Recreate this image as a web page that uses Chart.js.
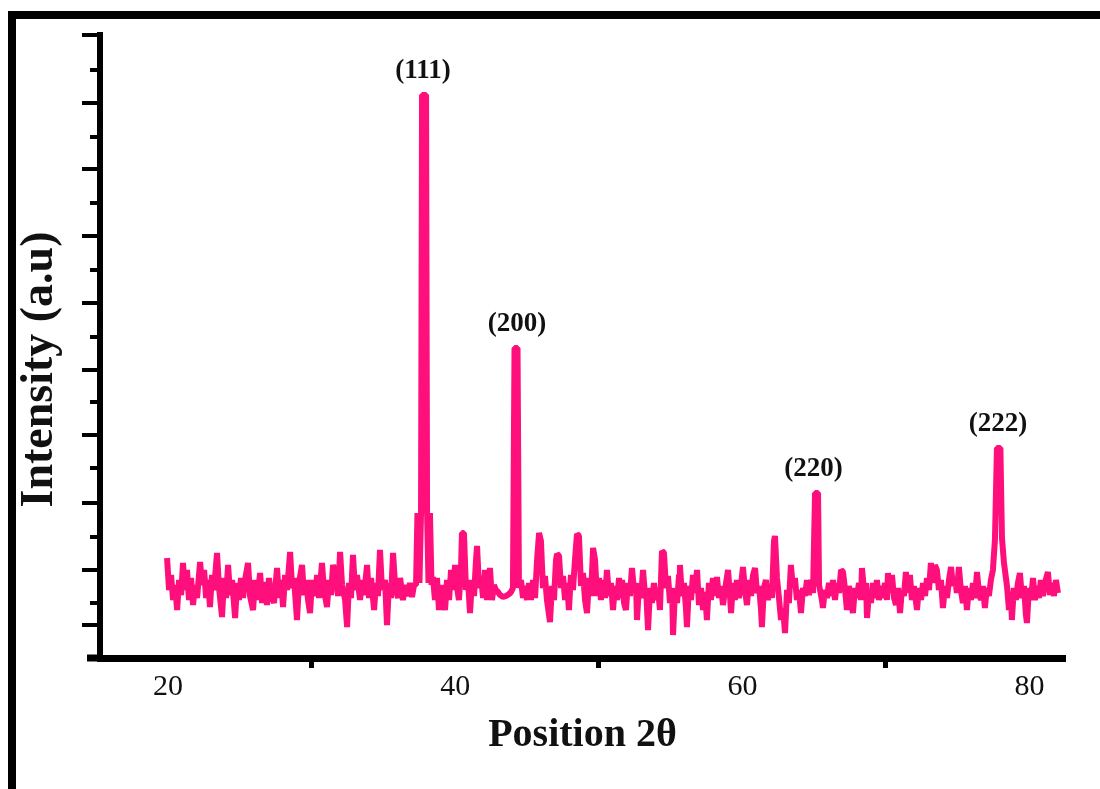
<!DOCTYPE html>
<html><head><meta charset="utf-8">
<script src="https://cdn.jsdelivr.net/npm/chart.js@4.4.1/dist/chart.umd.min.js"></script>
<style>
html,body{margin:0;padding:0;background:#fff;}
#wrap{position:relative;width:1100px;height:789px;overflow:hidden;background:#fff;}
#frame{position:absolute;left:8px;top:11px;width:1200px;height:900px;border-left:8px solid #000;border-top:8px solid #000;}
canvas{position:absolute;left:0;top:0;}
</style></head><body>
<div id="wrap"><div id="frame"></div><canvas id="c" width="1100" height="789"></canvas></div>
<script>
// 2θ positions (degrees)
const twoTheta = [
19.93,20.07,20.21,20.35,20.49,20.63,20.77,20.91,21.04,21.18,21.32,21.46,21.60,21.74,21.88,22.02,
22.23,22.37,22.51,22.65,22.79,22.92,23.06,23.20,23.41,23.55,23.76,23.90,24.04,24.18,24.32,24.46,
24.67,24.81,24.94,25.08,25.22,25.36,25.57,25.71,25.92,26.06,26.20,26.41,26.55,26.69,26.89,27.03,
27.17,27.38,27.59,27.73,27.87,28.01,28.15,28.29,28.50,28.64,28.77,28.98,29.12,29.33,29.47,29.61,
29.75,29.89,30.03,30.24,30.38,30.52,30.72,30.86,31.07,31.21,31.35,31.49,31.70,31.84,31.98,32.12,
32.33,32.47,32.60,32.74,32.88,33.02,33.16,33.37,33.51,33.65,33.86,34.00,34.14,34.35,34.48,34.62,
34.76,34.90,35.11,35.25,35.39,35.53,35.67,35.81,36.02,36.16,36.36,36.50,36.71,36.85,36.99,37.13,
37.27,37.37,37.51,37.62,37.69,37.97,38.04,38.14,38.24,38.35,
38.45,38.59,38.73,38.87,39.01,39.15,39.29,39.43,39.57,39.71,39.85,39.99,40.13,40.26,40.40,40.47,
40.61,40.75,40.89,41.03,41.17,41.31,41.45,41.52,41.66,41.80,41.94,42.08,42.21,42.42,42.56,42.70,
42.84,42.98,43.12,43.33,43.54,43.75,43.89,44.02,44.13,44.34,44.44,44.58,44.72,44.86,45.00,45.14,
45.28,45.42,45.56,45.70,45.84,45.97,46.11,46.25,46.39,46.60,46.74,46.88,47.02,47.09,47.23,47.37,
47.51,47.65,47.79,47.92,48.06,48.20,48.34,48.48,48.62,48.76,48.90,49.04,49.18,49.32,49.46,49.60,
49.74,49.87,50.01,50.15,50.29,50.43,50.57,50.71,50.85,50.99,51.13,51.27,51.41,51.55,51.62,51.76,
51.89,52.03,52.17,52.31,52.45,52.59,52.66,52.80,52.94,53.08,53.22,53.29,53.43,53.57,53.70,53.84,
53.98,54.12,54.26,54.40,54.54,54.68,54.82,54.96,55.10,55.17,55.31,55.45,55.59,55.65,55.79,55.93,
56.07,56.14,56.28,56.42,56.56,56.70,56.84,56.98,57.12,57.26,57.40,57.53,57.67,57.81,57.95,58.09,
58.23,58.37,58.51,58.65,58.79,59.00,59.14,59.21,59.35,59.48,59.62,59.76,59.90,60.04,60.18,60.32,
60.46,60.60,60.74,60.88,61.02,61.16,61.30,61.36,61.50,61.64,61.78,61.92,62.06,62.20,62.27,62.41,
62.55,62.69,62.83,62.97,63.11,63.24,63.38,63.52,63.66,63.80,63.94,64.08,64.22,64.36,64.50,64.64,
64.78,64.92,65.06,65.27,65.34,65.54,65.61,65.75,65.89,66.03,66.17,66.31,66.45,66.59,66.73,66.87,
67.01,67.14,67.28,67.42,67.56,67.70,67.84,67.98,68.12,68.26,68.33,68.47,68.61,68.68,68.82,68.96,
69.09,69.23,69.37,69.51,69.65,69.79,69.93,70.07,70.14,70.28,70.42,70.56,70.70,70.84,70.98,71.11,
71.25,71.39,71.53,71.67,71.81,71.95,72.16,72.30,72.44,72.58,72.72,72.86,73.00,73.13,73.27,73.41,
73.55,73.69,73.83,73.97,74.11,74.25,74.39,74.53,74.67,74.81,74.94,75.08,75.22,75.36,75.50,75.64,
75.78,75.92,76.06,76.20,76.34,76.48,76.62,76.75,76.89,77.03,77.17,77.31,77.45,77.59,77.73,77.97,
78.08,78.22,78.43,78.57,78.71,78.77,78.91,79.05,79.19,79.33,79.47,79.61,79.75,79.82,79.96,80.10,
80.24,80.38,80.52,80.66,80.79,80.93,81.07,81.28,81.42,81.56,81.70,81.84,81.98
];
// Intensity (a.u.)
const intensity = [
100,68,83,58,73,48,78,63,95,68,88,58,80,53,73,60,
96,73,88,60,78,51,83,68,105,70,41,80,60,93,63,78,
40,75,58,80,60,78,95,62,48,78,58,85,55,76,53,80,
63,55,90,60,78,51,83,68,106,70,80,38,75,93,63,78,
58,45,78,62,83,60,95,68,51,78,63,93,80,62,106,73,
58,31,75,60,103,68,83,58,78,63,93,60,80,48,75,62,
108,68,78,33,75,60,105,73,60,80,58,73,62,75,61,73,
73,145,75,145,563,563,145,75,145,73,
81,58,80,48,73,60,48,78,58,88,68,93,70,58,88,125,
125,68,78,45,78,62,98,112,70,82,60,88,58,90,58,73,
68,66,63,61,62,64,66,70,310,310,70,78,60,72,58,75,
58,78,60,98,125,117,70,82,58,36,72,58,98,104,102,70,
82,58,75,48,83,68,98,124,122,72,85,58,45,80,62,110,
98,62,80,58,78,60,88,62,75,48,72,58,80,60,78,55,
48,75,62,90,68,75,38,72,60,88,63,70,28,70,55,75,
58,70,48,107,105,70,82,55,70,23,68,55,83,93,62,75,
50,31,72,58,83,65,88,53,70,48,66,38,75,58,80,62,
81,60,72,53,68,88,62,45,75,58,78,60,72,91,68,53,
78,62,83,90,65,72,48,31,70,78,58,72,60,117,122,80,
60,38,50,25,68,55,93,70,80,58,68,45,70,62,78,63,
78,65,165,165,73,58,50,68,60,75,62,78,58,75,65,88,
86,70,48,72,58,45,70,60,75,58,90,68,75,40,65,55,
75,60,78,58,72,60,75,58,85,65,83,60,53,70,45,68,
62,86,65,83,58,72,48,70,58,75,62,80,68,95,75,93,
88,68,78,50,72,60,78,91,72,80,65,91,68,55,72,48,
70,58,75,60,86,65,58,72,50,70,62,78,88,118,210,210,
120,95,72,48,62,38,70,58,75,85,60,72,43,35,70,58,
80,58,72,60,78,62,75,86,63,75,62,78,65
];
const xTickValues = [20, 30, 40, 50, 60, 70, 80];
const xLabelValues = [20, 40, 60, 80];
const yMajorTicks = [623, 555, 489, 422, 355, 288, 223, 155, 88, 33];
const yMinorTicks = [588, 521, 455, 388, 321, 256, 190, 121, 55];
const peakLabels = ['(111)', '(200)', '(220)', '(222)'];
const peakPositions = [37.75, 44.30, 64.95, 77.80];
const peakHeights = [563, 310, 165, 210];

const points = twoTheta.map((t, i) => ({x: t, y: intensity[i]}));

const decor = {
  id: 'decor',
  afterDraw(chart) {
    const {ctx, chartArea, scales: {x, y}} = chart;
    ctx.save();
    ctx.strokeStyle = '#000';
    ctx.lineCap = 'butt';
    const ax = chartArea.left - 2;
    const line = (x1, y1, x2, y2) => { ctx.beginPath(); ctx.moveTo(x1, y1); ctx.lineTo(x2, y2); ctx.stroke(); };
    ctx.lineWidth = 4;
    yMajorTicks.forEach(v => { const py = y.getPixelForValue(v); line(ax - 16, py, ax, py); });
    yMinorTicks.forEach(v => { const py = y.getPixelForValue(v); line(ax - 8, py, ax, py); });
    ctx.lineWidth = 7;
    line(chartArea.left - 13, chartArea.bottom, chartArea.left, chartArea.bottom);
    ctx.fillStyle = '#111';
    ctx.font = 'bold 27px "Liberation Serif"';
    ctx.textAlign = 'center';
    ctx.textBaseline = 'middle';
    peakLabels.forEach((t, i) => {
      ctx.fillText(t, x.getPixelForValue(peakPositions[i]), y.getPixelForValue(peakHeights[i]) - 24);
    });
    ctx.restore();
  }
};

new Chart(document.getElementById('c'), {
  type: 'line',
  data: {
    datasets: [{
      data: points,
      borderColor: '#ff0f7b',
      borderWidth: 6,
      borderJoinStyle: 'bevel',
      pointRadius: 0,
      tension: 0,
      fill: false
    }]
  },
  options: {
    responsive: false,
    animation: false,
    devicePixelRatio: 1,
    layout: {padding: {left: 0, top: 35, right: 35, bottom: 0}},
    plugins: {legend: {display: false}, tooltip: {enabled: false}},
    scales: {
      x: {
        type: 'linear',
        position: 'bottom',
        min: 15.26,
        max: 82.47,
        afterBuildTicks: s => { s.ticks = xTickValues.map(v => ({value: v})); },
        afterFit: s => { s.height = 131; },
        ticks: {
          autoSkip: false,
          maxRotation: 0,
          padding: 1,
          color: '#111',
          font: {family: '"Liberation Serif"', size: 30},
          callback: v => xLabelValues.includes(v) ? String(v) : ''
        },
        grid: {
          display: true,
          drawOnChartArea: false,
          drawTicks: true,
          tickLength: 10,
          tickWidth: 5,
          tickColor: c => (c.tick && xLabelValues.includes(c.tick.value)) ? 'rgba(0,0,0,0)' : '#000'
        },
        border: {display: true, color: '#000', width: 7},
        title: {
          display: true,
          text: 'Position 2θ',
          color: '#111',
          font: {family: '"Liberation Serif"', size: 40, weight: 'bold'},
          padding: {top: 0, bottom: 29}
        }
      },
      y: {
        min: 0,
        max: 623,
        afterFit: s => { s.width = 100; },
        ticks: {display: false},
        grid: {display: false},
        border: {display: true, color: '#000', width: 6},
        title: {
          display: true,
          text: 'Intensity (a.u)    ',
          color: '#111',
          font: {family: '"Liberation Serif"', size: 46, weight: 'bold'},
          padding: {top: 13, bottom: 0}
        }
      }
    }
  },
  plugins: [decor]
});
</script>
</body></html>
